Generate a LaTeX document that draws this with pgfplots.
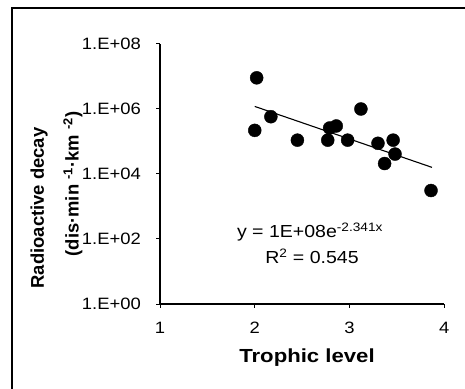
\documentclass[border=0pt]{standalone}
\usepackage{fontspec}
\setmainfont{Liberation Sans}[FakeStretch=1.12]
\newfontfamily\boldwide{Liberation Sans}[FakeStretch=1.17]
\newfontfamily\boldplain{Liberation Sans}
\newcommand\tl{\fontsize{16.5}{19}\selectfont}
\usepackage{pgfplots}
\pgfplotsset{compat=1.18}
\begin{document}
\begin{tikzpicture}
\useasboundingbox (0bp,0bp) rectangle (465bp,389bp);
\draw[line width=1.1bp] (12bp,0bp) -- (12bp,381bp) -- (466bp,381bp);
\begin{axis}[
  at={(160bp,85bp)}, anchor=south west,
  scale only axis, width=284.3bp, height=260bp,
  xmin=1, xmax=4, ymode=log, ymin=1, ymax=1e8,
  axis x line*=bottom, axis y line*=left,
  axis line style={line width=1.1bp,-},
  xtick={1,2,3,4}, ytick={1,100,1e4,1e6,1e8},
  xticklabels={{\tl 1},{\tl 2},{\tl 3},{\tl 4}},
  yticklabels={{\tl 1.E+00},{\tl 1.E+02},{\tl 1.E+04},{\tl 1.E+06},{\tl 1.E+08}},
  minor ytick={}, 
  tick align=outside, major tick length=4bp,
  tick style={line width=1bp,black},
  /pgf/number format/assume math mode=true,
  tick label style={font=\tl},
  yticklabel style={anchor=east, inner sep=0pt, xshift=-15bp},
  xticklabel style={anchor=north, inner sep=0pt, yshift=-14bp},
  clip=false,
]
\addplot[only marks, mark=*, mark size=6.5bp, black] coordinates {
(2.02,9.1e6) (2.00,2.2e5) (2.17,5.8e5) (2.45,1.1e5) (2.77,1.1e5) (2.79,2.6e5)
(2.86,3.0e5) (2.98,1.1e5) (3.12,1.0e6) (3.30,8.8e4) (3.46,1.1e5) (3.48,4.1e4)
(3.37,2.1e4) (3.86,3.1e3)
};
\addplot[black, line width=1.1bp, no marks] coordinates {(2.0,1.2e6) (3.87,1.6e4)};
\end{axis}
\node[rotate=90, font=\boldplain\bfseries\fontsize{18.5}{20}\selectfont, inner sep=0pt] at (39bp,181bp) {Radioactive decay};
\node[rotate=90, font=\boldplain\bfseries\fontsize{18.5}{20}\selectfont, inner sep=0pt] at (73bp,205bp) {(dis·min \textsuperscript{-1}·km \textsuperscript{-2})};
\node[font=\boldwide\bfseries\fontsize{19}{21}\selectfont, inner sep=0pt] at (307bp,31bp) {Trophic level};
\node[font=\fontsize{17.5}{19}\selectfont, inner sep=0pt] at (310bp,157bp) {y = 1E+08e\textsuperscript{-2.341x}};
\node[font=\fontsize{17.5}{19}\selectfont, inner sep=0pt] at (312bp,133bp) {R\textsuperscript{2} = 0.545};
\end{tikzpicture}
\end{document}
